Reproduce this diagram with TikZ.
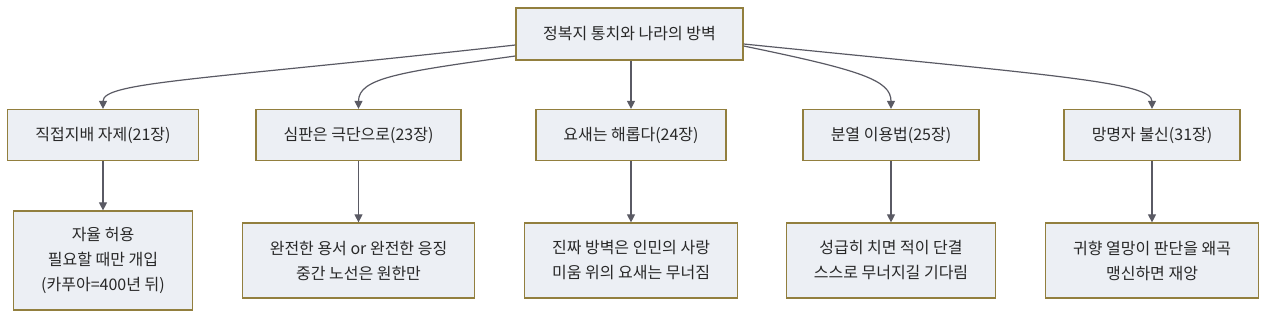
\documentclass[tikz,border=0pt]{standalone}
\usepackage{fontspec}
\setmainfont{Noto Sans CJK KR}
\usetikzlibrary{arrows.meta, positioning}
\definecolor{boxfill}{RGB}{236, 239, 244}
\definecolor{boxline}{RGB}{146, 127, 62}
\definecolor{edgegray}{RGB}{90, 90, 100}
\definecolor{textdark}{RGB}{40, 40, 40}

\tikzset{
  box/.style={draw=boxline, fill=boxfill, line width=0.9pt, align=center, text=textdark,
    font=\fontsize{12}{18.75}\selectfont, inner sep=0pt, minimum height=38.25pt},
  edge/.style={draw=edgegray, line width=0.9pt, -{Triangle[length=6pt, width=6pt]}},
}

\begin{document}
\begin{tikzpicture}[x=0.75pt, y=-0.75pt]
  \useasboundingbox (0,0) rectangle (1280,323);

  % top
  \node[box, minimum width=170.25pt, minimum height=39pt] (root) at (629.5,34) {정복지 통치와 나라의 방벽};

  % chapters
  \node[box, minimum width=143.25pt] (ch21) at (103,135) {직접지배 자제(21장)};
  \node[box, minimum width=153.75pt] (ch23) at (358.5,135) {심판은 극단으로(23장)};
  \node[box, minimum width=142.5pt] (ch24) at (631,135) {요새는 해롭다(24장)};
  \node[box, minimum width=132pt] (ch25) at (891,135) {분열 이용법(25장)};
  \node[box, minimum width=132pt] (ch31) at (1152,135) {망명자 불신(31장)};

  % lessons
  \node[box, minimum width=134.25pt, minimum height=74.25pt] (rule21) at (103,260.5) {자율 허용\\필요할 때만 개입\\(카푸아=400년 뒤)};
  \node[box, minimum width=174pt, minimum height=56.25pt] (rule23) at (358.5,260.5) {완전한 용서 or 완전한 응징\\중간 노선은 원한만};
  \node[box, minimum width=159.75pt, minimum height=56.25pt] (rule24) at (631,260.5) {진짜 방벽은 인민의 사랑\\미움 위의 요새는 무너짐};
  \node[box, minimum width=156.75pt, minimum height=56.25pt] (rule25) at (891,260.5) {성급히 치면 적이 단결\\스스로 무너지길 기다림};
  \node[box, minimum width=159.75pt, minimum height=56.25pt] (rule31) at (1152,260.5) {귀향 열망이 판단을 왜곡\\맹신하면 재앙};

  \draw[edge] ([yshift=-8.25pt]root.west) .. controls (200,80) and (103,82) .. (ch21.north);
  \draw[edge] ([yshift=-16.5pt]root.west) .. controls (400,72) and (358.5,78) .. (ch23.north);
  \draw[edge] (root.south -| ch24.north) -- (ch24.north);
  \draw[edge] ([yshift=-9pt]root.east) .. controls (860,70) and (891,80) .. (ch25.north);
  \draw[edge] ([yshift=-7.5pt]root.east) .. controls (1050,75) and (1152,82) .. (ch31.north);

  \foreach \c in {21, 23, 24, 25, 31}
    \draw[edge] (ch\c.south) -- (rule\c.north);
\end{tikzpicture}
\end{document}
